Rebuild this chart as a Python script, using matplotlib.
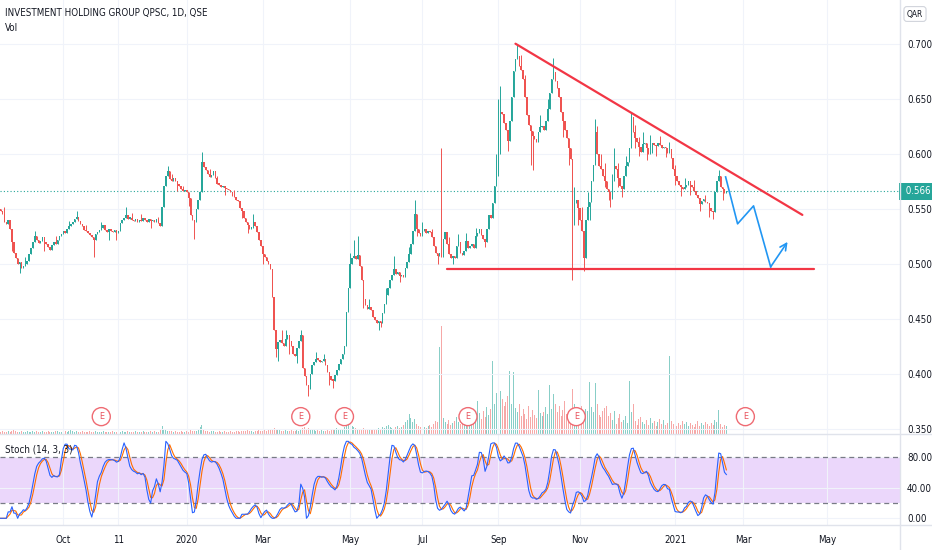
import matplotlib
matplotlib.use("Agg")
import matplotlib.pyplot as plt
import matplotlib.transforms as mtransforms
from matplotlib import font_manager as fm
import numpy as np
import pandas as pd

# pick a narrow face if one is installed (chart uses a condensed UI font)
narrow = None
for pref in ('liberationsansnarrow', 'dejavusanscondensed', 'narrow', 'condensed'):
    for f in fm.fontManager.ttflist:
        fn = f.fname.lower().replace('-', '').replace('_', '')
        if pref in fn and not any(s in fn for s in ('bold', 'italic', 'oblique', 'light', 'semi', 'extra')):
            narrow = f
            break
    if narrow:
        break
if narrow:
    plt.rcParams['font.family'] = [narrow.name, 'DejaVu Sans']
    plt.rcParams['font.stretch'] = narrow.stretch
    FS = 7.5 if 'liberation' in narrow.fname.lower() else 7
else:
    plt.rcParams['font.family'] = ['Liberation Sans', 'DejaVu Sans']
    FS = 7

# daily closes (x1000), one per bar
closes = np.array([
    548, 545, 538, 536, 540, 532, 520, 510, 505, 500,
    502, 496, 498, 500, 503, 509, 514, 520, 525, 522,
    519, 521, 524, 520, 518, 515, 513, 517, 520, 518,
    522, 525, 527, 530, 528, 532, 534, 536, 538, 541,
    543, 539, 536, 534, 531, 530, 528, 526, 524, 522,
    527, 529, 531, 533, 535, 531, 529, 532, 530, 529,
    531, 528, 530, 537, 540, 542, 544, 541, 542, 540,
    539, 541, 538, 540, 539, 542, 540, 538, 541, 539,
    540, 538, 541, 537, 534, 552, 571, 580, 584, 577,
    575, 578, 575, 573, 571, 568, 566, 567, 565, 560,
    544, 540, 538, 550, 558, 565, 593, 588, 585, 582,
    579, 581, 584, 578, 573, 572, 570, 571, 569, 568,
    567, 565, 562, 561, 558, 557, 551, 548, 542, 538,
    535, 532, 533, 538, 534, 529, 522, 516, 509, 506,
    503, 500, 495, 470, 440, 423, 429, 431, 428, 425,
    432, 435, 430, 425, 418, 416, 424, 430, 435, 405,
    398, 390, 386, 400, 408, 411, 414, 413, 411, 412,
    414, 408, 402, 398, 395, 394, 399, 404, 409, 414,
    418, 425, 456, 478, 500, 505, 507, 504, 508, 498,
    485, 468, 463, 459, 461, 458, 452, 449, 446, 448,
    446, 455, 464, 472, 478, 485, 490, 495, 491, 493,
    489, 490, 488, 496, 502, 509, 518, 530, 545, 532,
    528, 525, 530, 532, 528, 530, 529, 524, 516, 510,
    507, 510, 506, 523, 529, 518, 509, 505, 507, 505,
    516, 520, 510, 508, 512, 521, 514, 516, 518, 514,
    525, 528, 532, 526, 523, 520, 532, 544, 542, 555,
    571, 580, 600, 638, 636, 628, 622, 612, 630, 652,
    675, 686, 689, 680, 676, 668, 652, 635, 626, 621,
    616, 613, 611, 620, 624, 625, 622, 630, 641, 655,
    668, 674, 666, 660, 652, 638, 630, 622, 614, 605,
    595, 546, 555, 558, 551, 540, 530, 505, 540, 552,
    556, 575, 590, 620, 600, 589, 586, 580, 575, 568,
    565, 559, 575, 589, 586, 578, 571, 568, 580, 589,
    593, 605, 633, 620, 614, 611, 606, 602, 609, 610,
    605, 600, 601, 610, 608, 607, 610, 608, 605, 606,
    605, 601, 604, 596, 586, 580, 575, 572, 570, 568,
    570, 572, 575, 572, 570, 566, 563, 560, 554, 557,
    559, 556, 555, 551, 548, 547, 565, 575, 580, 570,
    568, 564, 566,
]) / 1000
first_open = 0.550

# visible wicks (bar index: price x1000)
wick_high = {2: 552, 13: 506, 18: 530, 29: 525, 36: 539, 40: 548, 45: 535, 53: 538,
             66: 552, 69: 546, 74: 545, 83: 543, 88: 589, 90: 582, 96: 571, 106: 602,
             110: 586, 114: 580, 123: 567, 133: 545, 148: 440, 150: 440, 158: 440,
             166: 420, 170: 418, 184: 510, 186: 522, 188: 525, 194: 468, 203: 478,
             207: 507, 215: 515, 218: 558, 222: 538, 227: 532, 232: 605, 236: 524,
             241: 527, 245: 528, 250: 533, 261: 600, 262: 650, 263: 662, 272: 700,
             274: 690, 276: 672, 284: 635, 288: 650, 291: 687, 302: 570, 306: 552,
             309: 565, 313: 632, 314: 625, 316: 600, 318: 592, 322: 582, 323: 605,
             325: 592, 329: 598, 332: 638, 334: 626, 336: 615, 338: 620, 342: 617,
             347: 616, 352: 611, 355: 590, 360: 578, 365: 576, 371: 563, 378: 585}
wick_low = {6: 512, 10: 492, 23: 512, 49: 506, 57: 522, 61: 522, 79: 533, 93: 566,
            99: 553, 102: 523, 118: 563, 127: 542, 130: 528, 138: 500, 145: 415,
            146: 412, 152: 418, 156: 410, 162: 380, 173: 390, 175: 387, 191: 460,
            199: 440, 200: 443, 210: 484, 219: 525, 230: 500, 238: 500, 255: 515,
            267: 603, 279: 590, 280: 585, 296: 615, 299: 590, 301: 485, 302: 535,
            304: 535, 307: 494, 310: 540, 318: 570, 320: 558, 321: 552, 325: 570,
            327: 561, 334: 605, 336: 598, 340: 594, 345: 598, 350: 597, 355: 572,
            358: 562, 363: 563, 368: 548, 373: 543, 375: 541, 380: 558}

volumes = np.array([
    2, 3, 2, 2, 3, 2, 3, 4, 3, 2, 2, 3, 2, 2, 3, 2, 2, 3, 2, 3,
    2, 2, 3, 2, 2, 3, 2, 2, 2, 3, 3, 2, 2, 2, 3, 2, 3, 4, 3, 2,
    3, 2, 2, 3, 2, 2, 2, 3, 2, 2, 3, 2, 2, 2, 3, 2, 2, 2, 2, 3,
    2, 2, 3, 2, 3, 2, 2, 3, 2, 2, 2, 3, 2, 2, 2, 3, 2, 2, 2, 3,
    2, 3, 2, 2, 4, 8, 5, 4, 3, 3, 3, 2, 3, 2, 2, 3, 2, 2, 3, 2,
    4, 3, 3, 3, 4, 7, 9, 4, 3, 3, 2, 3, 3, 2, 2, 3, 2, 2, 3, 2,
    2, 3, 2, 2, 3, 3, 2, 3, 3, 3, 4, 3, 3, 2, 3, 3, 4, 3, 3, 4,
    3, 4, 4, 5, 6, 5, 4, 4, 3, 3, 4, 3, 3, 4, 3, 3, 4, 3, 5, 6,
    7, 5, 6, 5, 4, 4, 3, 4, 3, 4, 3, 3, 4, 3, 4, 4, 5, 6, 5, 4,
    5, 7, 9, 11, 10, 8, 7, 6, 5, 4, 5, 6, 5, 4, 4, 5, 4, 4, 5, 6,
    5, 7, 6, 8, 9, 7, 6, 5, 7, 8, 6, 7, 9, 12, 14, 20, 16, 12, 15, 10,
    8, 7, 6, 7, 6, 8, 9, 7, 10, 13, 12, 87, 108, 16, 12, 10, 14, 9, 11, 13,
    17, 12, 10, 11, 9, 14, 10, 12, 15, 11, 18, 33, 21, 15, 23, 17, 27, 19, 25, 73,
    30, 41, 108, 43, 35, 28, 32, 38, 63, 30, 62, 26, 22, 30, 18, 25, 20, 15, 28, 17,
    24, 19, 16, 44, 21, 18, 22, 27, 20, 49, 25, 40, 30, 22, 28, 18, 24, 33, 20, 15,
    21, 45, 30, 26, 22, 19, 28, 17, 25, 23, 52, 27, 22, 51, 30, 19, 17, 23, 26, 28,
    18, 21, 14, 23, 10, 16, 20, 12, 14, 18, 11, 53, 22, 30, 13, 9, 15, 17, 12, 10,
    14, 9, 16, 11, 13, 8, 12, 15, 10, 14, 9, 11, 78, 13, 10, 12, 8, 11, 9, 13,
    10, 12, 8, 11, 9, 7, 10, 13, 8, 11, 9, 12, 10, 8, 11, 9, 14, 12, 24, 10,
    7, 9, 8,
])

tick_pos = [33, 62, 98, 138, 184, 222, 262, 305, 355, 391, 435]
tick_labels = ["Oct", "11", "2020", "Mar", "May", "Jul", "Sep", "Nov", "2021", "Mar", "May"]
earnings_bars = [53, 158, 181, 246, 303, 392]

resist_x, resist_y = [271, 422], [0.700, 0.5445]
support_x, support_y = [235, 428], [0.4955, 0.4955]
path_x = [381.6, 387.9, 396.3, 405.3, 414.2]
path_y = [0.579, 0.5364, 0.5527, 0.4973, 0.520]

UP, DOWN = '#26a69a', '#ef5350'
GRID = '#f0f3fa'
TXT = '#131722'

n = len(closes)
idx = np.arange(n)
opens = np.concatenate([[first_open], closes[:-1]])
highs = np.maximum(opens, closes)
lows = np.minimum(opens, closes)
for i, v in wick_high.items():
    highs[i] = max(highs[i], v / 1000)
for i, v in wick_low.items():
    lows[i] = min(lows[i], v / 1000)
up = closes >= opens
cols = np.where(up, UP, DOWN)

# stochastic 14,3,3
hh = pd.Series(highs).rolling(14, min_periods=1).max()
ll = pd.Series(lows).rolling(14, min_periods=1).min()
rng = (hh - ll).replace(0, np.nan)
raw = (100 * (pd.Series(closes) - ll) / rng).fillna(50)
k = raw.rolling(3, min_periods=1).mean()
d = k.rolling(3, min_periods=1).mean()

W, H = 932, 550
fig = plt.figure(figsize=(W / 100, H / 100), dpi=100)
fig.patch.set_facecolor('white')

px = 1.9
x0 = -0.3
x1 = x0 + 900 / px

ax = fig.add_axes([0, 1 - 434 / H, 900 / W, 434 / H])
axv = ax.twinx()
ax.set_zorder(axv.get_zorder() + 1)
ax.patch.set_visible(False)

# volume
vcols = [(0.149, 0.651, 0.604, 0.55) if u else (0.937, 0.325, 0.314, 0.5) for u in up]
axv.bar(idx, volumes, width=0.55, color=vcols, linewidth=0)
axv.set_ylim(0, 434)
axv.axis('off')

# candles
ax.vlines(idx, lows, highs, colors=cols, linewidth=0.7, zorder=3)
body = np.maximum(np.abs(closes - opens), 0.0012)
ax.bar(idx, body, bottom=np.minimum(opens, closes), width=0.8, color=cols,
       linewidth=0, zorder=4)

ax.set_xlim(x0, x1)
ax.set_ylim(0.3455, 0.7397)
yt = np.arange(0.35, 0.701, 0.05)
ax.set_yticks(yt)
ax.set_yticklabels([f"{v:.3f}" for v in yt])
ax.yaxis.tick_right()
ax.tick_params(axis='y', length=0, pad=5, labelsize=FS, colors=TXT)
ax.set_xticks(tick_pos)
ax.tick_params(axis='x', length=0, labelbottom=False)
ax.grid(True, color=GRID, linewidth=0.8)
ax.set_axisbelow(True)
for s in ax.spines.values():
    s.set_visible(False)

# last price line and label
last = closes[-1]
ax.axhline(last, color=UP, linestyle=(0, (1, 2)), linewidth=0.8, zorder=2)
tr = mtransforms.blended_transform_factory(ax.transAxes, ax.transData)
ax.text(1.003, last, f" {last:.3f} ", transform=tr, va='center', ha='left', fontsize=FS,
        color='white', bbox=dict(boxstyle='square,pad=0.35', fc=UP, ec='none'), zorder=10,
        clip_on=False)

# drawings
ax.plot(resist_x, resist_y, color='#f23645', linewidth=1.6, zorder=6, solid_capstyle='round')
ax.plot(support_x, support_y, color='#f23645', linewidth=1.6, zorder=6, solid_capstyle='round')
ax.plot(path_x[:-1], path_y[:-1], color='#2196f3', linewidth=1.2, zorder=6)
ax.annotate('', xy=(path_x[-1], path_y[-1]), xytext=(path_x[-2], path_y[-2]),
            arrowprops=dict(arrowstyle='->', color='#2196f3', lw=1.2, mutation_scale=12,
                            shrinkA=0, shrinkB=0), zorder=6)

# earnings markers
te = mtransforms.blended_transform_factory(ax.transData, ax.transAxes)
for b in earnings_bars:
    ax.text(b, 0.04, 'E', transform=te, ha='center', va='center', fontsize=6.5,
            color='#e8505b', zorder=7,
            bbox=dict(boxstyle='circle,pad=0.5', fc='white', ec='#ef6b73', lw=1.0))

# stochastic panel
ax2 = fig.add_axes([0, 25 / H, 900 / W, 90 / H])
ax2.axhspan(20, 80, color='#ebd7fb', zorder=0, linewidth=0)
ax2.axhline(80, color='#787b86', linestyle=(0, (4, 3)), linewidth=0.9, zorder=1)
ax2.axhline(20, color='#787b86', linestyle=(0, (4, 3)), linewidth=0.9, zorder=1)
ax2.plot(idx, d, color='#ff6d00', linewidth=0.8, zorder=3)
ax2.plot(idx, k, color='#2962ff', linewidth=0.8, zorder=3)
ax2.set_xlim(x0, x1)
ax2.set_ylim(-8.7, 108.2)
ax2.set_yticks([0, 40, 80])
ax2.set_yticklabels(["0.00", "40.00", "80.00"])
ax2.yaxis.tick_right()
ax2.tick_params(axis='y', length=0, pad=5, labelsize=FS, colors=TXT)
ax2.set_xticks(tick_pos)
ax2.set_xticklabels(tick_labels)
ax2.tick_params(axis='x', length=0, pad=7, labelsize=FS, colors=TXT)
ax2.grid(True, color=GRID, linewidth=0.8)
ax2.set_axisbelow(True)
for s in ax2.spines.values():
    s.set_visible(False)
ax2.text(0.006, 0.84, "Stoch (14, 3, 3)", transform=ax2.transAxes, fontsize=FS,
         color=TXT, va='center')

# separators
sep = '#e0e3eb'
fig.add_artist(plt.Line2D([0, 1], [1 - 434 / H, 1 - 434 / H], color=sep, lw=1))
fig.add_artist(plt.Line2D([0, 1], [25 / H, 25 / H], color=sep, lw=1))
fig.add_artist(plt.Line2D([900 / W, 900 / W], [0, 1], color=sep, lw=1))

# header texts
fig.text(5 / W, 1 - 13 / H, "INVESTMENT HOLDING GROUP QPSC, 1D, QSE", fontsize=FS,
         color=TXT, va='center', ha='left')
fig.text(5 / W, 1 - 28 / H, "Vol", fontsize=FS, color=TXT, va='center', ha='left')
fig.text(915 / W, 1 - 14 / H, "QAR", fontsize=FS - 1, color=TXT, va='center', ha='center',
         bbox=dict(boxstyle='round,pad=0.35', fc='white', ec='#d1d4dc', lw=0.8))

fig.savefig("out.png", dpi=100)
